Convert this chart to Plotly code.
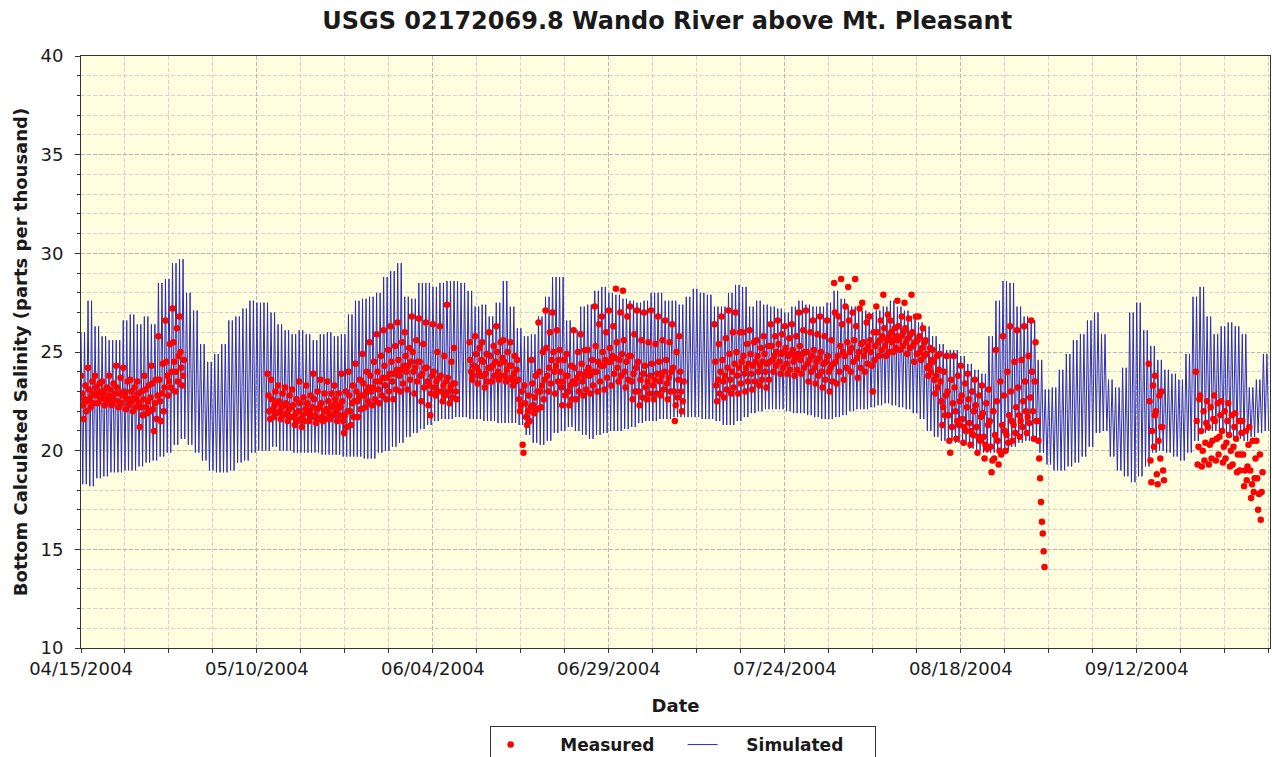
import pandas as pd
import plotly.graph_objects as go

TITLE = "USGS 02172069.8 Wando River above Mt. Pleasant"
Y_TITLE = "Bottom Calculated Salinity (parts per thousand)"
X_TITLE = "Date"
START = "2004-04-15"
END = "2004-09-30 22:30"
Y_TICKS = [10, 15, 20, 25, 30, 35, 40]

# Simulated: daily high-tide and low-tide salinity (day 0 = 04/15/2004)
sim_hi = [
    26.0, 27.6, 26.3, 25.8, 25.6, 25.6, 26.6, 26.9, 26.4, 26.8,
    26.4, 28.5, 28.7, 29.5, 29.7, 28.0, 27.1, 25.4, 24.5, 24.9,
    25.4, 26.6, 26.8, 27.2, 27.6, 27.5, 27.5, 27.0, 26.4, 26.1,
    25.9, 26.1, 25.9, 25.6, 25.9, 26.0, 25.8, 25.9, 26.9, 27.6,
    27.7, 27.8, 28.0, 28.8, 29.1, 29.5, 27.8, 27.7, 28.5, 28.5,
    28.3, 28.5, 28.6, 28.6, 28.5, 28.1, 27.3, 27.4, 26.8, 27.5,
    28.6, 27.3, 26.2, 25.8, 25.9, 26.8, 27.8, 28.8, 28.8, 26.6,
    26.1, 27.3, 27.4, 28.1, 28.3, 28.0, 27.9, 27.7, 27.6, 27.5,
    27.6, 28.0, 28.0, 27.6, 27.6, 27.4, 27.8, 28.2, 28.0, 27.9,
    27.3, 27.3, 28.0, 28.4, 28.3, 27.3, 27.6, 27.4, 27.3, 27.2,
    27.0, 27.3, 27.6, 27.4, 27.3, 27.3, 27.5, 28.1, 27.7, 27.3,
    27.3, 27.1, 27.0, 27.1, 27.3, 27.6, 27.3, 27.1, 26.8, 26.5,
    26.3, 25.8, 25.4, 25.1, 25.1, 24.8, 24.4, 24.1, 23.9, 25.8,
    27.6, 28.6, 28.5, 27.3, 26.8, 26.6, 24.6, 23.1, 23.2, 24.1,
    24.9, 25.6, 25.9, 26.6, 27.0, 25.9, 23.6, 23.2, 24.2, 27.0,
    27.5, 26.1, 25.3, 24.6, 24.1, 23.9, 23.6, 24.9, 27.8, 28.3,
    26.8, 25.9, 26.3, 26.5, 26.3, 25.9, 23.2, 23.6, 24.9,
]
sim_lo = [
    18.3, 18.2, 18.6, 18.7, 18.9, 18.9, 19.0, 19.0, 19.2, 19.4,
    19.5, 19.7, 19.9, 20.3, 20.6, 20.3, 19.9, 19.5, 19.0, 18.9,
    18.9, 19.0, 19.4, 19.5, 19.9, 20.0, 20.0, 20.2, 20.0, 20.0,
    19.9, 19.9, 19.9, 19.9, 19.8, 19.8, 19.8, 19.7, 19.7, 19.7,
    19.6, 19.6, 19.9, 20.0, 20.2, 20.4, 20.7, 20.9, 21.1, 21.3,
    21.5, 21.6, 21.6, 21.7, 21.7, 21.6, 21.6, 21.5, 21.5, 21.4,
    21.4, 21.4, 21.3, 20.8, 20.4, 20.3, 20.5, 20.9, 21.0, 21.2,
    21.0, 20.8, 20.6, 20.8, 20.9, 21.0, 21.0, 21.1, 21.2, 21.4,
    21.5, 21.5, 21.6, 21.6, 21.7, 21.7, 21.7, 21.7, 21.6, 21.6,
    21.5, 21.3, 21.3, 21.5, 21.7, 21.9, 22.0, 22.1, 22.1, 22.1,
    22.0, 21.9, 21.9, 21.8, 21.7, 21.6, 21.6, 21.7, 21.8, 22.0,
    22.1, 22.1, 22.2, 22.3, 22.4, 22.3, 22.2, 22.1, 21.9, 21.6,
    21.0, 20.7, 20.5, 20.5, 20.4, 20.3, 20.1, 20.0, 19.9, 19.9,
    19.9, 20.0, 20.2, 20.4, 20.5, 20.6, 19.9, 19.3, 19.0, 19.0,
    19.2, 19.4, 19.7, 20.2, 20.9, 21.0, 19.7, 19.0, 18.7, 18.4,
    18.7, 19.2, 19.9, 20.0, 19.9, 19.7, 19.5, 19.9, 20.5, 20.9,
    21.0, 21.0, 20.9, 20.7, 20.6, 20.5, 20.7, 20.9, 21.0,
]

# Measured: start day of each block and its 3-hourly readings
meas_days = [
    0, 1, 2, 3, 4, 5, 6, 7, 8, 9, 10, 11, 12, 13, 14,
    26.5, 27, 28, 29, 30, 31, 32, 33, 34, 35, 36, 37, 38, 39, 40,
    41, 42, 43, 44, 45, 46, 47, 48, 49, 50, 51, 52, 53,
    55.2, 56, 57, 58, 59, 60, 61, 62, 63, 64, 65, 66, 67, 68, 69,
    70, 71, 72, 73, 74, 75, 76, 77, 78, 79, 80, 81, 82, 83, 84, 85,
    90, 91, 92, 93, 94, 95, 96, 97, 98, 99, 100, 101, 102, 103, 104,
    105, 106, 107, 108, 109, 110, 111, 112, 113, 114, 115, 116, 117,
    118, 119, 120, 121, 122, 123, 124, 125, 126, 127, 128, 129, 130,
    131, 132, 133, 134, 135, 135.9,
    151.7, 152.6, 153.5,
    158.4, 159, 160, 161, 162, 163, 164, 165, 166, 167,
]
meas_vals = [
    [23.8, 22.9, 22.3, 21.6, 22.6, 23.3, 22.0, 22.5],
    [24.2, 23.1, 22.6, 22.2, 22.8, 23.5, 22.4, 22.9],
    [23.8, 23.2, 22.8, 22.4, 22.9, 23.4, 22.6, 23.0],
    [23.5, 23.0, 22.7, 22.3, 22.6, 23.2, 22.5, 22.8],
    [23.8, 23.1, 22.6, 22.3, 22.8, 23.4, 22.5, 22.9],
    [24.3, 23.2, 22.5, 22.2, 22.9, 23.7, 22.4, 22.8],
    [24.2, 23.0, 22.8, 22.1, 22.6, 23.5, 22.3, 22.6],
    [23.6, 23.0, 22.5, 22.0, 22.7, 23.2, 22.2, 22.6],
    [23.5, 22.9, 22.4, 21.2, 22.2, 23.0, 21.8, 22.6],
    [23.8, 23.1, 22.2, 21.9, 22.5, 23.3, 22.0, 22.7],
    [24.3, 23.4, 22.1, 21.0, 22.4, 23.6, 21.6, 22.8],
    [25.8, 23.6, 22.5, 21.5, 22.9, 24.4, 22.0, 23.2],
    [26.6, 24.5, 23.8, 22.8, 23.5, 25.4, 23.2, 24.0],
    [27.2, 25.5, 24.5, 23.0, 24.0, 26.2, 23.5, 24.8],
    [26.8, 25.0, 24.2, 23.3, 23.8, 24.6],
    [23.9, 22.8, 22.0, 21.6],
    [23.6, 22.6, 22.1, 21.7, 22.3, 23.0, 21.9, 22.4],
    [23.3, 22.5, 22.0, 21.6, 22.2, 22.9, 21.8, 22.3],
    [23.2, 22.4, 21.9, 21.5, 22.1, 22.8, 21.7, 22.2],
    [23.1, 22.3, 21.7, 21.3, 21.9, 22.6, 21.5, 22.0],
    [23.5, 22.4, 21.6, 21.2, 21.8, 22.7, 21.5, 22.1],
    [23.3, 22.4, 21.9, 21.5, 22.0, 22.8, 21.7, 22.2],
    [23.9, 22.6, 21.8, 21.4, 22.1, 23.0, 21.6, 22.2],
    [23.6, 22.4, 21.7, 21.5, 22.0, 22.9, 21.6, 22.1],
    [23.5, 22.5, 21.9, 21.6, 22.2, 22.9, 21.8, 22.3],
    [23.3, 22.6, 22.0, 21.5, 22.3, 22.9, 21.8, 22.2],
    [23.9, 22.5, 21.5, 20.9, 21.8, 23.0, 21.2, 22.0],
    [24.0, 22.8, 22.0, 21.3, 22.4, 23.3, 21.7, 22.5],
    [24.4, 23.0, 22.5, 21.7, 22.7, 23.6, 22.1, 22.8],
    [24.9, 23.4, 22.8, 22.2, 23.0, 24.0, 22.5, 23.2],
    [25.5, 23.8, 23.0, 22.3, 23.2, 24.5, 22.6, 23.5],
    [25.9, 24.0, 23.1, 22.4, 23.5, 24.8, 22.8, 23.7],
    [26.1, 24.3, 23.3, 22.6, 23.7, 25.1, 23.0, 23.9],
    [26.3, 24.5, 23.5, 22.6, 23.9, 25.3, 23.1, 24.1],
    [26.5, 24.6, 23.8, 23.0, 24.1, 25.5, 23.4, 24.3],
    [26.0, 24.8, 24.0, 23.1, 24.3, 25.2, 23.6, 24.5],
    [26.8, 25.0, 24.0, 22.9, 24.2, 25.6, 23.5, 24.5],
    [26.7, 24.5, 23.8, 22.5, 23.9, 25.4, 23.2, 24.2],
    [26.5, 24.2, 23.5, 22.3, 23.3, 21.8, 22.9, 23.8],
    [26.4, 24.0, 23.2, 22.8, 23.5, 25.0, 23.0, 23.7],
    [26.3, 23.8, 23.0, 22.5, 23.3, 24.8, 22.8, 23.5],
    [27.4, 23.7, 23.0, 22.4, 23.2, 24.5, 22.7, 23.4],
    [25.2, 23.4, 23.0, 22.6],
    [25.5, 24.6, 24.0, 23.6, 23.8, 24.3],
    [25.8, 24.9, 24.2, 23.4, 24.0, 25.2, 23.8, 24.6],
    [25.5, 24.5, 23.8, 23.2, 23.9, 24.9, 23.5, 24.2],
    [26.0, 24.8, 24.2, 23.5, 24.3, 25.3, 23.8, 24.5],
    [26.3, 25.0, 24.0, 23.6, 24.4, 25.5, 23.8, 24.7],
    [25.6, 24.5, 23.8, 23.5, 24.1, 25.0, 23.6, 24.3],
    [25.5, 24.3, 23.7, 23.3, 23.9, 24.8, 23.5, 24.1],
    [24.6, 23.6, 22.6, 22.0, 22.3, 23.0, 20.3, 19.9],
    [23.3, 22.4, 21.7, 21.3, 22.0, 22.8, 21.5, 22.2],
    [24.6, 23.4, 22.3, 21.9, 22.7, 23.8, 22.1, 23.0],
    [26.5, 24.0, 23.0, 22.2, 23.3, 25.0, 22.6, 23.6],
    [27.1, 25.2, 23.8, 23.0, 24.2, 26.0, 23.4, 24.6],
    [27.0, 25.0, 24.0, 22.9, 24.3, 26.1, 23.5, 24.6],
    [25.1, 24.0, 23.2, 22.3, 23.5, 24.6, 22.8, 23.8],
    [24.9, 23.8, 23.0, 22.3, 23.3, 24.3, 22.6, 23.5],
    [26.1, 24.2, 23.4, 22.6, 23.7, 25.0, 23.0, 23.9],
    [25.9, 24.4, 23.5, 22.8, 23.8, 25.1, 23.1, 24.0],
    [25.1, 24.2, 23.8, 22.9, 23.9, 24.6, 23.3, 24.0],
    [27.3, 25.3, 24.0, 23.0, 24.5, 26.4, 23.5, 24.3],
    [26.8, 25.0, 24.3, 23.1, 24.6, 26.0, 23.7, 24.5],
    [27.1, 25.2, 24.5, 23.3, 24.8, 26.3, 23.9, 24.7],
    [28.2, 25.5, 24.2, 23.5, 24.6, 27.0, 23.8, 24.9],
    [28.1, 25.6, 24.0, 23.2, 24.5, 26.8, 23.6, 24.8],
    [27.3, 24.8, 23.5, 22.6, 23.9, 25.9, 23.0, 24.2],
    [27.1, 24.5, 23.0, 22.3, 23.6, 25.6, 22.7, 23.9],
    [27.0, 24.3, 23.2, 22.6, 23.5, 25.5, 22.9, 23.8],
    [27.1, 24.4, 23.3, 22.6, 23.6, 25.4, 22.9, 23.9],
    [26.8, 24.5, 23.5, 22.8, 23.8, 25.6, 23.1, 24.0],
    [26.6, 24.6, 23.4, 22.6, 23.7, 25.5, 23.0, 24.0],
    [26.4, 24.2, 23.0, 21.5, 22.3, 25.0, 22.7, 23.6],
    [25.8, 24.0, 23.0, 22.0, 22.5, 23.5],
    [26.4, 24.5, 23.3, 22.5, 23.6, 25.4, 22.9, 24.0],
    [26.8, 24.6, 23.5, 22.7, 23.8, 25.7, 23.1, 24.2],
    [27.1, 24.9, 23.6, 22.9, 24.0, 26.0, 23.2, 24.4],
    [27.0, 25.0, 23.8, 22.9, 24.2, 26.0, 23.4, 24.5],
    [26.0, 24.8, 23.9, 23.0, 24.2, 25.4, 23.5, 24.4],
    [26.1, 24.9, 23.9, 23.1, 24.3, 25.5, 23.5, 24.5],
    [25.6, 24.8, 24.0, 23.3, 24.3, 25.2, 23.6, 24.5],
    [25.8, 24.9, 24.0, 23.2, 24.4, 25.3, 23.6, 24.5],
    [26.4, 25.3, 24.6, 24.0, 24.8, 25.8, 24.3, 25.0],
    [26.6, 25.4, 24.5, 23.9, 24.9, 25.9, 24.2, 25.0],
    [26.3, 25.2, 24.4, 23.9, 24.8, 25.7, 24.1, 24.9],
    [26.4, 25.1, 24.5, 23.8, 24.7, 25.8, 24.1, 24.9],
    [27.0, 25.3, 24.6, 23.9, 24.9, 26.1, 24.2, 25.0],
    [27.1, 25.0, 24.4, 23.5, 24.6, 26.0, 24.0, 24.8],
    [26.6, 25.1, 24.2, 23.4, 24.5, 25.9, 23.8, 24.7],
    [26.8, 25.0, 24.0, 23.2, 24.4, 25.8, 23.6, 24.5],
    [26.6, 24.8, 24.0, 23.0, 24.2, 25.6, 23.5, 24.4],
    [28.5, 27.0, 24.5, 23.4, 24.8, 26.8, 24.0, 25.3],
    [28.7, 26.4, 25.0, 23.6, 24.8, 27.3, 24.2, 25.5],
    [28.3, 26.6, 25.0, 24.0, 25.2, 27.0, 24.5, 25.6],
    [28.7, 26.3, 24.7, 23.7, 25.0, 27.2, 24.2, 25.4],
    [27.5, 25.5, 24.8, 24.0, 25.1, 26.5, 24.4, 25.3],
    [26.8, 25.6, 25.0, 24.3, 23.0, 26.0, 24.6, 25.3],
    [27.3, 26.0, 25.5, 24.8, 25.6, 26.6, 25.1, 25.8],
    [27.9, 26.2, 25.3, 24.8, 25.6, 26.9, 25.0, 25.8],
    [26.6, 26.0, 25.5, 25.0, 25.6, 26.2, 25.2, 25.8],
    [27.6, 26.3, 25.6, 25.1, 25.8, 26.8, 25.3, 26.0],
    [27.5, 26.2, 25.5, 24.9, 25.7, 26.7, 25.2, 25.9],
    [27.9, 26.0, 25.3, 24.5, 25.5, 26.8, 24.9, 25.6],
    [26.8, 25.8, 25.0, 24.6, 25.2, 26.2, 24.8, 25.5],
    [25.6, 24.9, 24.2, 23.8, 24.3, 25.2, 24.0, 24.6],
    [25.1, 24.5, 23.6, 22.9, 23.8, 24.8, 23.2, 24.1],
    [24.9, 23.5, 22.5, 21.3, 22.2, 24.0, 21.8, 22.8],
    [24.8, 23.0, 21.8, 20.5, 19.9, 23.6, 21.2, 22.4],
    [24.8, 23.2, 22.0, 20.6, 21.5, 23.8, 21.3, 22.5],
    [24.3, 22.8, 21.6, 20.4, 21.2, 23.4, 21.0, 22.2],
    [23.9, 22.6, 21.4, 20.3, 21.0, 23.0, 20.8, 22.0],
    [23.6, 22.3, 21.2, 19.9, 20.7, 22.8, 20.5, 21.7],
    [23.3, 21.9, 20.7, 19.6, 20.3, 22.4, 20.1, 21.3],
    [23.1, 21.5, 20.2, 18.9, 19.5, 22.0, 19.6, 20.8],
    [25.1, 22.5, 20.5, 19.3, 20.0, 23.5, 19.8, 21.3],
    [25.8, 22.8, 21.0, 20.0, 20.8, 24.0, 20.4, 21.8],
    [26.3, 23.0, 21.5, 20.5, 21.3, 24.5, 20.9, 22.2],
    [26.1, 23.2, 21.8, 20.7, 21.5, 24.6, 21.2, 22.5],
    [26.3, 23.5, 22.0, 20.9, 21.7, 24.8, 21.4, 22.7],
    [26.6, 24.0, 22.0, 20.6, 23.5, 25.5, 21.5],
    [21.5, 20.5, 19.6, 18.6, 17.4, 16.4, 15.8, 14.9, 14.1],
    [24.4, 22.5, 19.5, 18.4, 21.0, 23.3, 20.2, 21.8],
    [23.8, 22.0, 18.8, 18.3, 20.5, 22.8, 19.6, 21.2],
    [23.0, 21.2, 19.0, 18.5],
    [24.0, 21.5, 19.3, 20.2, 22.6],
    [22.8, 21.0, 19.2, 20.0, 22.0, 19.5, 20.4, 21.4],
    [22.5, 21.2, 19.3, 20.3, 22.2, 19.6, 20.5, 21.6],
    [22.8, 21.5, 19.5, 20.6, 22.4, 19.8, 20.7, 21.8],
    [22.5, 21.0, 19.4, 20.2, 22.0, 19.6, 20.4, 21.5],
    [22.4, 20.8, 19.2, 20.0, 21.8, 19.3, 20.2, 21.2],
    [21.9, 20.6, 18.9, 19.8, 21.5, 19.0, 19.8, 20.9],
    [21.5, 19.8, 18.2, 19.0, 21.0, 18.5, 19.2, 20.3],
    [21.2, 19.0, 17.6, 18.3, 20.5, 17.9, 18.6, 19.6],
    [20.5, 18.6, 17.0, 17.8, 19.8, 16.5, 17.9, 18.9],
]

start = pd.Timestamp(START)

# simulated series: two tides per day (high, low, high, low)
sim_x, sim_y = [], []
for d, (hi, lo) in enumerate(zip(sim_hi, sim_lo)):
    for k, v in enumerate([hi, lo, hi, lo]):
        sim_x.append(start + pd.Timedelta(days=d + k * 0.25))
        sim_y.append(v)

meas_x, meas_y = [], []
for d, vals in zip(meas_days, meas_vals):
    for k, v in enumerate(vals):
        meas_x.append(start + pd.Timedelta(days=d + k / 8))
        meas_y.append(v)

FONT = "DejaVu Sans"
TXT = "#1a1a1a"
GRID_MAJ = "#b8b8b8"
GRID_MIN = "#d2d2d2"
NB = "\u00a0"

fig = go.Figure()
fig.add_trace(go.Scatter(
    x=sim_x, y=sim_y, mode="lines", name=NB * 4 + "Simulated",
    line=dict(color="#2b2bb8", width=1), legendrank=2,
))
fig.add_trace(go.Scatter(
    x=meas_x, y=meas_y, mode="markers", name=NB * 5 + "Measured",
    marker=dict(color="#ff0000", size=6.5), legendrank=1,
))

fig.update_layout(
    width=1272, height=757,
    margin=dict(l=81, r=2, t=56, b=109, autoexpand=False),
    paper_bgcolor="white", plot_bgcolor="#ffffe0",
    font=dict(family=FONT, color=TXT, size=18),
    title=dict(text=TITLE, x=0.5245, xanchor="center", y=0.9734, yanchor="middle",
               font=dict(size=24, weight="bold", family=FONT, color=TXT)),
    showlegend=True,
    legend=dict(orientation="h", x=0.506, xanchor="center", y=-0.1318, yanchor="top",
                bordercolor="#333333", borderwidth=1, bgcolor="white",
                font=dict(size=17, weight="bold", family=FONT, color=TXT),
                entrywidth=147, entrywidthmode="pixels"),
    hovermode=False,
)
fig.update_xaxes(
    type="date", range=[START, END], automargin=False,
    tick0=START, dtick=25 * 86400000, tickformat="%m/%d/%Y",
    ticks="outside", ticklen=4, tickcolor="#333",
    showline=True, linecolor="#333", linewidth=1, mirror=True,
    showgrid=True, gridcolor=GRID_MAJ, griddash="4px,2px", gridwidth=1,
    minor=dict(dtick=6.25 * 86400000, tick0=START, ticks="outside", ticklen=4,
               tickcolor="#333", showgrid=True, gridcolor=GRID_MIN, griddash="4px,2px"),
    title=dict(text=X_TITLE, font=dict(size=18, weight="bold"), standoff=21),
    tickfont=dict(size=18), zeroline=False,
)
fig.update_yaxes(
    range=[10, 40], tickvals=Y_TICKS, automargin=False,
    ticks="outside", ticklen=5, tickcolor="#333", ticklabelstandoff=8,
    showline=True, linecolor="#333", linewidth=1, mirror=True,
    showgrid=True, gridcolor=GRID_MAJ, griddash="4px,2px", gridwidth=1,
    minor=dict(dtick=1, ticks="outside", ticklen=3, tickcolor="#333",
               showgrid=True, gridcolor=GRID_MIN, griddash="4px,2px"),
    title=dict(text=Y_TITLE, font=dict(size=18, weight="bold"), standoff=8),
    tickfont=dict(size=18), zeroline=False,
)

fig.write_html(
    "out.html",
    config={"displayModeBar": False},
    post_script="document.body.style.margin='0';document.body.style.overflow='hidden';",
)
